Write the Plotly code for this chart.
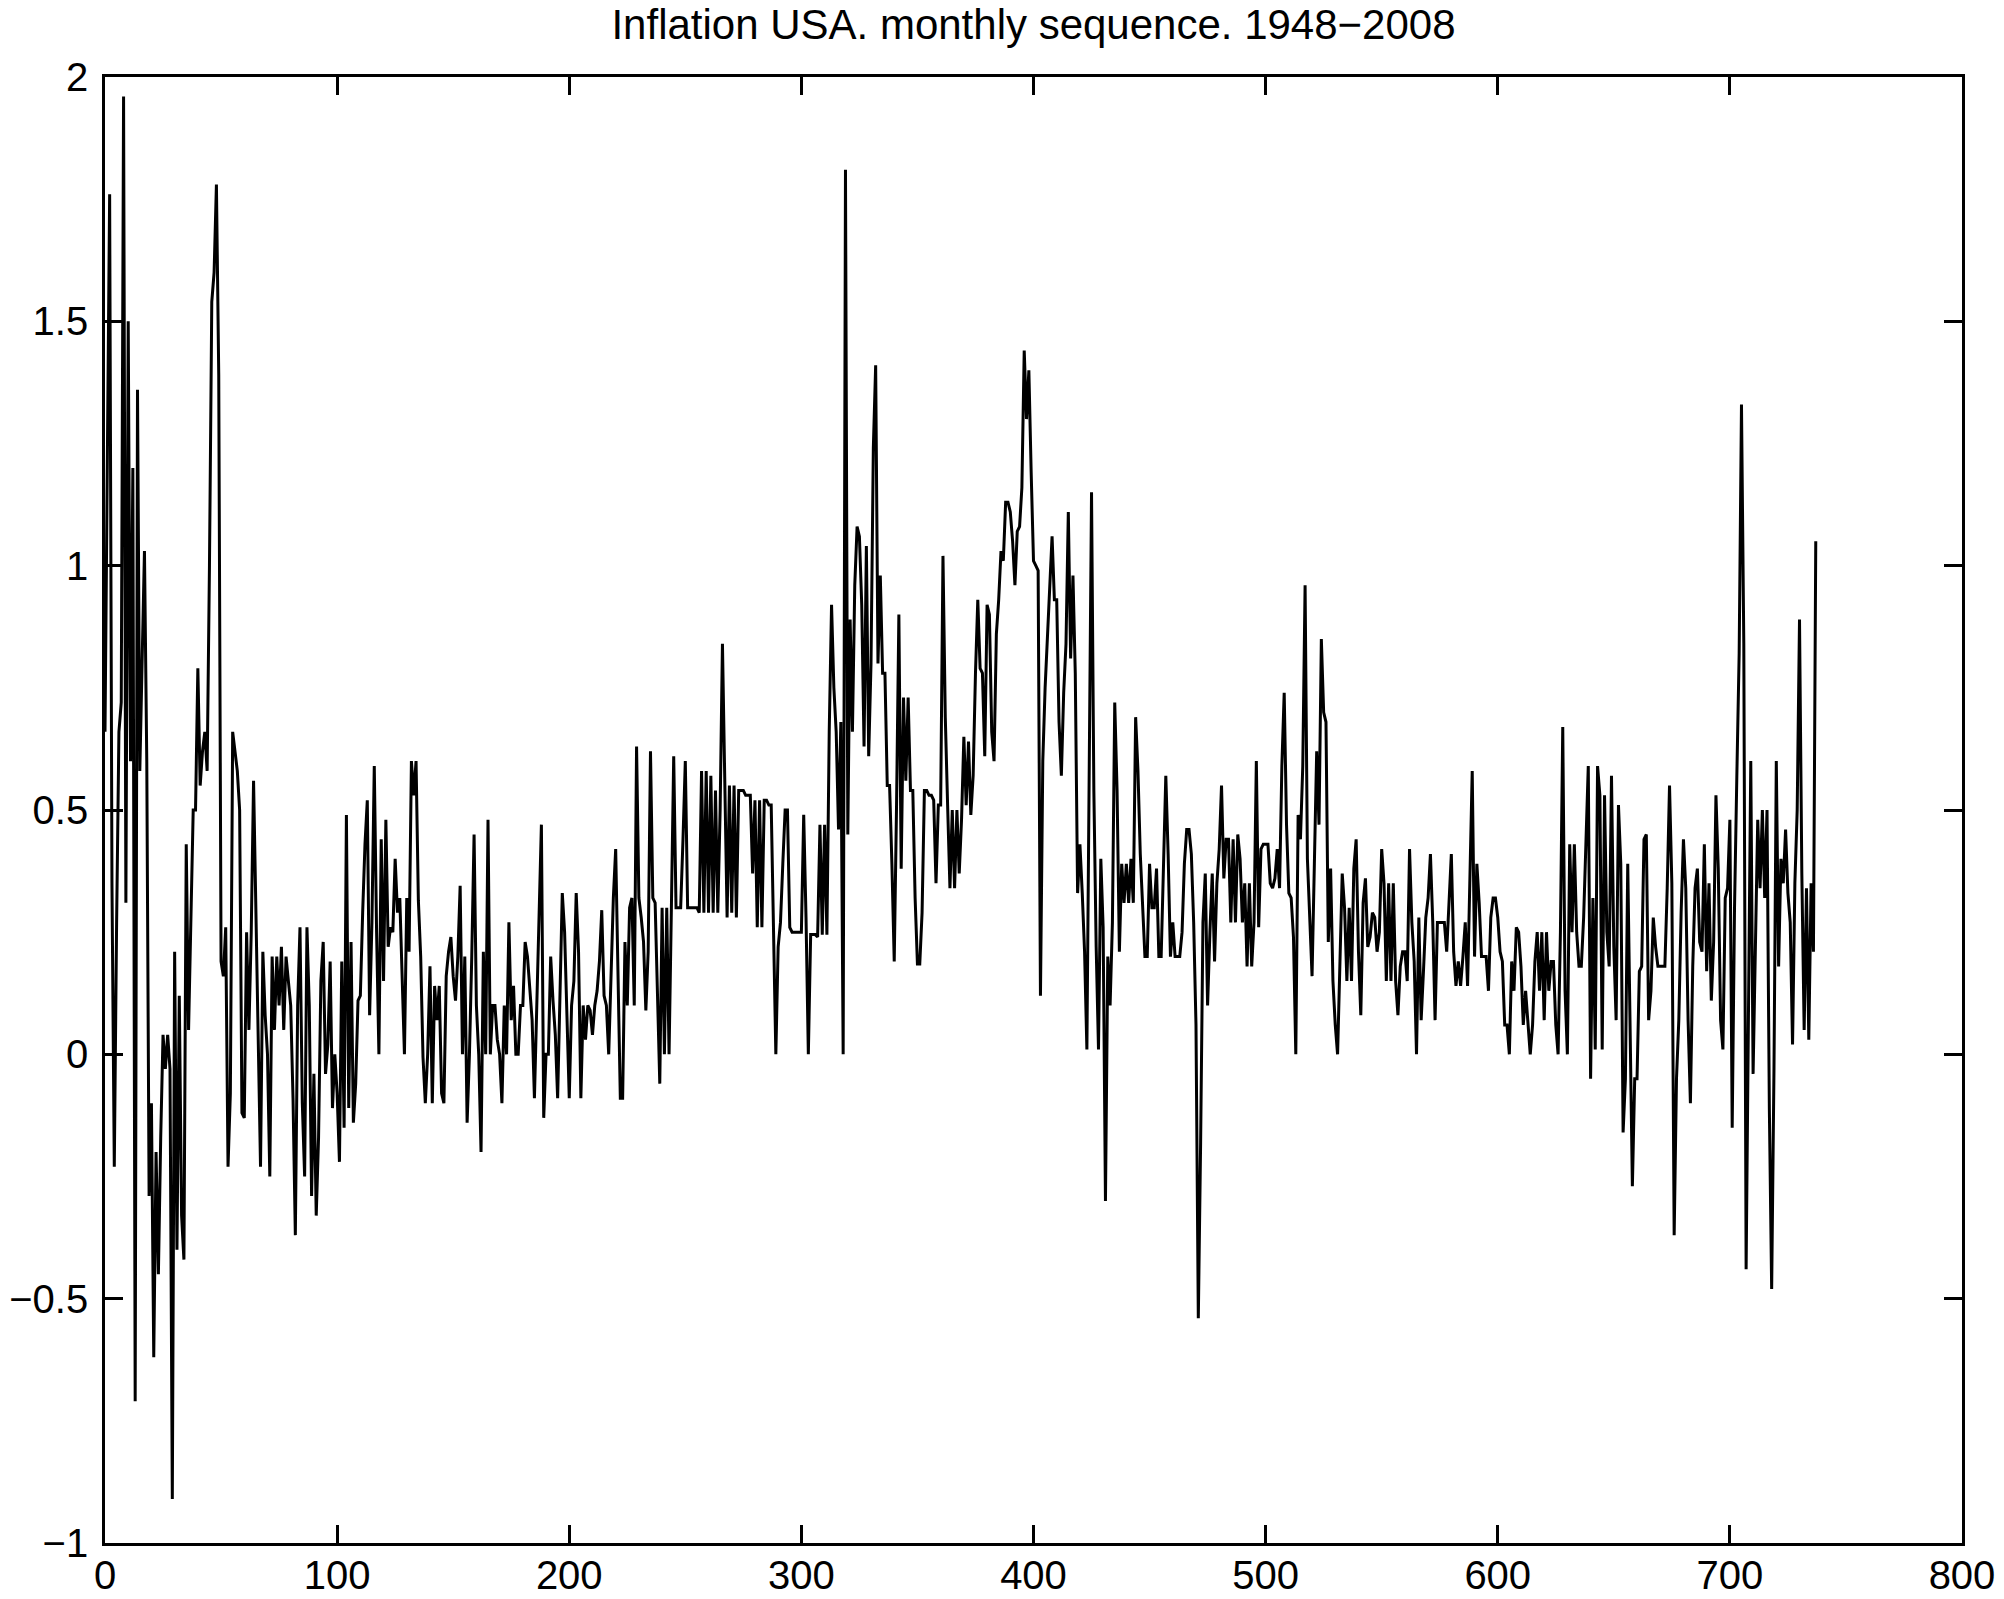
import plotly.graph_objects as go

title_text = "Inflation USA. monthly sequence. 1948\u22122008"

inflation = [
    0.66, 1.31, 1.76, 0.35, -0.23, 0.27, 0.66, 0.72, 1.96, 0.31,
    1.50, 0.60, 1.20, -0.71, 1.36, 0.58, 0.80, 1.03, 0.60, -0.29,
    -0.10, -0.62, -0.20, -0.45, -0.17, 0.04, -0.03, 0.04, -0.03, -0.91,
    0.21, -0.40, 0.12, -0.33, -0.42, 0.43, 0.05, 0.30, 0.50, 0.50,
    0.79, 0.55, 0.62, 0.66, 0.58, 1.00, 1.54, 1.60, 1.78, 1.39,
    0.19, 0.16, 0.26, -0.23, -0.08, 0.66, 0.62, 0.58, 0.50, -0.12,
    -0.13, 0.25, 0.05, 0.25, 0.56, 0.30, 0.05, -0.23, 0.21, 0.08,
    0.00, -0.25, 0.20, 0.05, 0.20, 0.10, 0.22, 0.05, 0.20, 0.15,
    0.10, -0.09, -0.37, 0.10, 0.26, -0.10, -0.25, 0.26, 0.10, -0.29,
    -0.04, -0.33, -0.17, 0.15, 0.23, -0.04, 0.02, 0.19, -0.11, 0.00,
    -0.08, -0.22, 0.19, -0.15, 0.49, -0.11, 0.23, -0.14, -0.06, 0.11,
    0.12, 0.29, 0.43, 0.52, 0.08, 0.27, 0.59, 0.25, 0.00, 0.44,
    0.15, 0.48, 0.22, 0.26, 0.25, 0.40, 0.29, 0.32, 0.155, 0.00,
    0.32, 0.21, 0.60, 0.53, 0.60, 0.315, 0.20, -0.006, -0.10, 0.00,
    0.18, -0.10, 0.14, 0.07, 0.14, -0.08, -0.10, 0.16, 0.21, 0.24,
    0.16, 0.11, 0.20, 0.345, 0.00, 0.20, -0.14, 0.00, 0.20, 0.45,
    0.10, 0.00, -0.20, 0.21, 0.00, 0.48, 0.00, 0.10, 0.10, 0.03,
    0.00, -0.10, 0.10, 0.00, 0.27, 0.07, 0.14, 0.00, 0.00, 0.10,
    0.10, 0.23, 0.20, 0.14, 0.07, -0.09, 0.09, 0.25, 0.47, -0.13,
    0.00, 0.00, 0.20, 0.11, 0.04, -0.09, 0.15, 0.33, 0.25, 0.07,
    -0.09, 0.10, 0.15, 0.33, 0.21, -0.09, 0.10, 0.03, 0.10, 0.09,
    0.04, 0.10, 0.13, 0.19, 0.295, 0.12, 0.10, 0.00, 0.18, 0.32,
    0.42, 0.14, -0.09, -0.09, 0.23, 0.10, 0.30, 0.32, 0.10, 0.63,
    0.32, 0.28, 0.23, 0.09, 0.21, 0.62, 0.32, 0.31, 0.12, -0.06,
    0.30, 0.00, 0.30, 0.00, 0.30, 0.61, 0.30, 0.30, 0.30, 0.44,
    0.60, 0.30, 0.30, 0.30, 0.30, 0.30, 0.29, 0.58, 0.29, 0.58,
    0.29, 0.57, 0.29, 0.54, 0.29, 0.50, 0.84, 0.54, 0.28, 0.55,
    0.29, 0.55, 0.28, 0.54, 0.54, 0.54, 0.53, 0.53, 0.53, 0.37,
    0.52, 0.26, 0.52, 0.26, 0.52, 0.52, 0.51, 0.51, 0.23, 0.00,
    0.22, 0.27, 0.39, 0.50, 0.50, 0.26, 0.25, 0.25, 0.25, 0.25,
    0.25, 0.49, 0.28, 0.00, 0.245, 0.245, 0.245, 0.24, 0.47, 0.245,
    0.47, 0.245, 0.66, 0.92, 0.75, 0.66, 0.46, 0.68, 0.00, 1.81,
    0.45, 0.89, 0.66, 0.96, 1.08, 1.06, 0.92, 0.63, 1.04, 0.61,
    0.80, 1.24, 1.41, 0.80, 0.98, 0.78, 0.78, 0.55, 0.55, 0.39,
    0.19, 0.51, 0.90, 0.38, 0.73, 0.56, 0.73, 0.54, 0.54, 0.32,
    0.185, 0.185, 0.29, 0.54, 0.54, 0.53, 0.53, 0.52, 0.35, 0.51,
    0.51, 1.02, 0.69, 0.51, 0.34, 0.50, 0.34, 0.50, 0.37, 0.48,
    0.65, 0.51, 0.64, 0.49, 0.57, 0.78, 0.93, 0.79, 0.78, 0.61,
    0.92, 0.90, 0.66, 0.60, 0.86, 0.93, 1.03, 1.01, 1.13, 1.13,
    1.11, 1.05, 0.96, 1.07, 1.08, 1.16, 1.44, 1.30, 1.40, 1.19,
    1.01, 1.00, 0.99, 0.12, 0.60, 0.75, 0.86, 0.97, 1.06, 0.93,
    0.93, 0.68, 0.57, 0.74, 0.84, 1.11, 0.81, 0.98, 0.78, 0.33,
    0.43, 0.33, 0.21, 0.01, 0.62, 1.15, 0.54, 0.22, 0.01, 0.40,
    0.26, -0.30, 0.20, 0.10, 0.27, 0.72, 0.54, 0.21, 0.39, 0.31,
    0.39, 0.31, 0.40, 0.31, 0.69, 0.58, 0.41, 0.30, 0.20, 0.20,
    0.39, 0.30, 0.30, 0.38, 0.20, 0.20, 0.39, 0.57, 0.41, 0.20,
    0.27, 0.20, 0.20, 0.20, 0.25, 0.39, 0.46, 0.46, 0.41, 0.27,
    0.06, -0.54, -0.18, 0.27, 0.37, 0.10, 0.25, 0.37, 0.19, 0.35,
    0.42, 0.55, 0.36, 0.44, 0.44, 0.27, 0.44, 0.27, 0.45, 0.40,
    0.27, 0.35, 0.18, 0.35, 0.18, 0.27, 0.60, 0.26, 0.42, 0.43,
    0.43, 0.43, 0.35, 0.34, 0.36, 0.42, 0.34, 0.59, 0.74, 0.47,
    0.33, 0.32, 0.24, 0.00, 0.49, 0.44, 0.59, 0.96, 0.40, 0.28,
    0.16, 0.39, 0.62, 0.47, 0.85, 0.70, 0.68, 0.23, 0.38, 0.15,
    0.06, 0.00, 0.18, 0.37, 0.30, 0.15, 0.30, 0.15, 0.38, 0.44,
    0.21, 0.08, 0.31, 0.36, 0.22, 0.24, 0.29, 0.28, 0.21, 0.25,
    0.42, 0.35, 0.15, 0.35, 0.15, 0.35, 0.15, 0.08, 0.18, 0.21,
    0.21, 0.15, 0.42, 0.27, 0.19, 0.00, 0.28, 0.07, 0.17, 0.28,
    0.32, 0.41, 0.27, 0.07, 0.27, 0.27, 0.27, 0.27, 0.21, 0.32,
    0.41, 0.21, 0.14, 0.19, 0.14, 0.20, 0.27, 0.14, 0.35, 0.58,
    0.20, 0.39, 0.31, 0.20, 0.20, 0.20, 0.13, 0.28, 0.32, 0.32,
    0.28, 0.21, 0.19, 0.06, 0.06, 0.00, 0.19, 0.13, 0.26, 0.25,
    0.18, 0.06, 0.13, 0.06, 0.00, 0.06, 0.19, 0.25, 0.13, 0.25,
    0.07, 0.25, 0.13, 0.19, 0.19, 0.06, 0.00, 0.25, 0.67, 0.13,
    0.00, 0.43, 0.25, 0.43, 0.25, 0.18, 0.18, 0.28, 0.42, 0.59,
    -0.05, 0.32, 0.01, 0.59, 0.53, 0.01, 0.53, 0.25, 0.18, 0.57,
    0.22, 0.07, 0.51, 0.39, -0.16, -0.05, 0.39, 0.00, -0.27, -0.05,
    -0.05, 0.17, 0.18, 0.44, 0.45, 0.07, 0.13, 0.28, 0.22, 0.18,
    0.18, 0.18, 0.18, 0.34, 0.55, 0.35, -0.37, -0.05, 0.07, 0.29,
    0.44, 0.34, 0.07, -0.10, 0.18, 0.34, 0.38, 0.23, 0.21, 0.43,
    0.17, 0.35, 0.11, 0.23, 0.53, 0.38, 0.07, 0.01, 0.32, 0.34,
    0.48, -0.15, 0.30, 0.57, 0.82, 1.33, 0.84, -0.44, 0.01, 0.60,
    -0.04, 0.26, 0.48, 0.34, 0.50, 0.32, 0.50, -0.11, -0.48, -0.03,
    0.60, 0.18, 0.40, 0.35, 0.46, 0.33, 0.27, 0.02, 0.35, 0.50,
    0.89, 0.37, 0.05, 0.34, 0.03, 0.35, 0.21, 1.05,
]
months = list(range(len(inflation)))

x_ticks = [0, 100, 200, 300, 400, 500, 600, 700, 800]
y_ticks = [-1, -0.5, 0, 0.5, 1, 1.5, 2]

FONT = "Liberation Sans, Arial, Helvetica, sans-serif"

fig = go.Figure(
    go.Scatter(x=months, y=inflation, mode="lines",
               line=dict(color="black", width=3))
)

axis_common = dict(
    ticks="inside", ticklen=18, tickwidth=2.5, tickcolor="black",
    showline=True, linecolor="black", linewidth=2.7, mirror="ticks",
    showgrid=False, zeroline=False, automargin=False,
    tickfont=dict(family=FONT, size=40, color="black"),
)

fig.update_layout(
    width=2004, height=1599,
    margin=dict(l=105, r=42, t=77, b=56, autoexpand=False),
    paper_bgcolor="white", plot_bgcolor="white",
    showlegend=False,
    title=dict(text=title_text, x=0.5, xref="paper", xanchor="center",
               y=1 - 24 / 1599, yref="container", yanchor="middle",
               font=dict(family=FONT, size=42, color="black")),
    xaxis=dict(range=[0, 800], tickvals=x_ticks, ticklabelstandoff=-5, **axis_common),
    yaxis=dict(range=[-1, 2], tickvals=y_ticks, ticklabelstandoff=6, **axis_common),
)

fig.write_html(
    "out.html",
    config={"displayModeBar": False},
    post_script="document.body.style.margin='0';document.body.style.overflow='hidden';",
)
